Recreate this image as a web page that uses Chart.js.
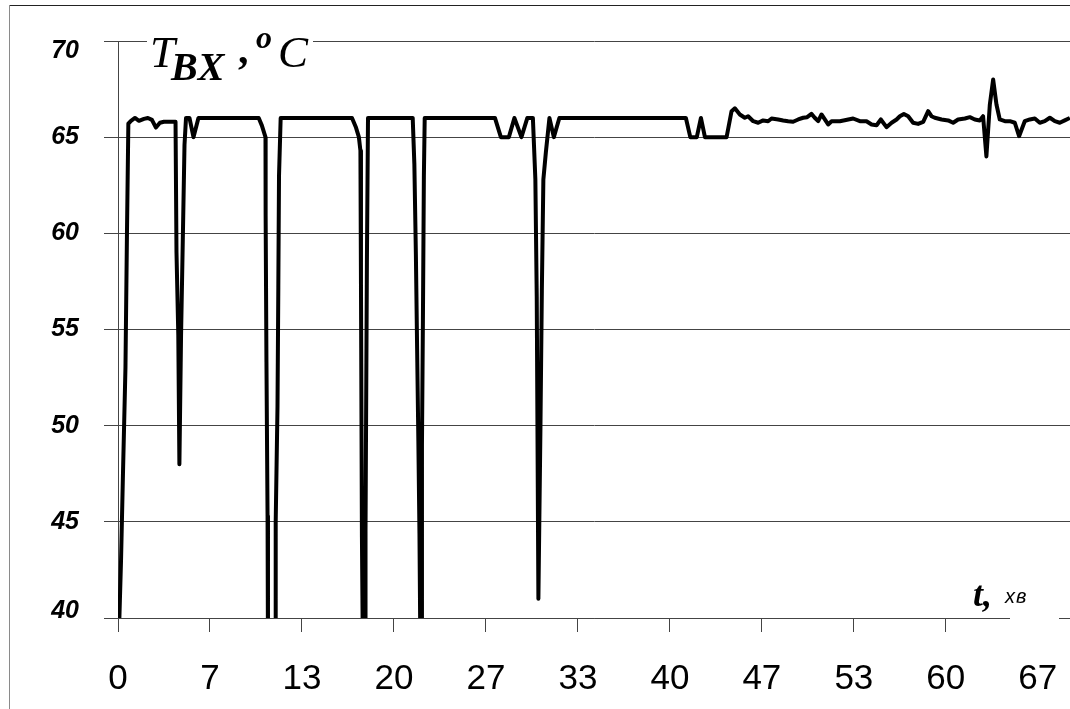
<!DOCTYPE html>
<html>
<head>
<meta charset="utf-8">
<script src="https://cdn.jsdelivr.net/npm/chart.js@4.4.1/dist/chart.umd.min.js"></script>
<style>
  html, body { margin: 0; padding: 0; background: #fff; }
  #wrap { position: relative; width: 1070px; height: 709px; }
</style>
</head>
<body>
<div id="wrap"><canvas id="chart" width="1070" height="709"></canvas></div>
<script>
// time in minutes (only where the trace changes direction)
const timeMin = [
  0.10, 0.22, 0.36, 0.54, 0.65, 0.75, 0.94, 1.23, 1.52, 1.88, 2.17, 2.46, 2.75, 3.04, 3.33,
  4.17, 4.24, 4.37, 4.45, 4.57, 4.70, 4.82, 4.93, 5.18, 5.47, 5.83,
  10.20, 10.43, 10.69, 10.70, 10.76, 10.84, 10.87, 11.41, 11.43, 11.56, 11.62, 11.67, 11.79,
  16.96, 17.25, 17.46, 17.57, 17.61, 17.68, 17.75, 17.93, 17.94, 18.04, 18.12,
  21.36, 21.48, 21.59, 21.68, 21.77, 21.85, 21.92, 21.99, 22.03, 22.10, 22.17, 22.23,
  27.32, 27.75, 28.33, 28.73, 29.24, 29.67, 30.07, 30.25, 30.35, 30.47, 30.62, 30.72, 30.83,
  31.01, 31.27, 31.59, 31.99,
  41.16, 41.48, 41.95, 42.25, 42.54, 44.11, 44.47, 44.71,
  45.07, 45.43, 45.67, 46.04, 46.40, 46.76, 47.12, 47.37, 47.85, 48.21, 48.57, 48.93,
  49.30, 49.66, 49.95, 50.26, 50.50, 50.75, 50.99, 51.23, 51.47, 51.72, 52.32, 53.28,
  53.77, 54.25, 54.62, 54.98, 55.29, 55.70, 56.07, 56.43, 56.67, 56.96, 57.27, 57.63,
  57.99, 58.36, 58.72, 58.96, 59.20, 59.69, 60.17, 60.53, 60.89, 61.38, 61.74, 62.10,
  62.46, 62.70, 62.94, 63.19, 63.43, 63.67, 63.91, 64.28, 64.64, 65.00, 65.31, 65.72,
  66.09, 66.45, 66.81, 67.17, 67.54, 67.90, 68.26, 68.62, 68.99
];
// inlet temperature, deg C
const tempC = [
  40, 43, 47.5, 53, 60, 65.7, 65.85, 66.0, 65.85, 65.95, 66.0, 65.9, 65.5, 65.75, 65.8,
  65.8, 59, 54.7, 48, 54.7, 59.8, 64.6, 66, 66, 65, 66,
  66, 65.6, 65, 61, 53.3, 45.3, 38, 38, 45, 51, 57.2, 63, 66,
  66, 65.5, 65, 64.3, 57.4, 44.2, 38, 38, 44.5, 58.5, 66,
  66, 63.6, 58.9, 54, 49.2, 44.4, 38, 38, 49, 55.5, 63, 66,
  66, 65, 65, 66, 65, 66, 66, 62.8, 56.7, 41, 50, 57, 62.8,
  64.2, 66, 65, 66,
  66, 65, 65, 66, 65, 65, 66.35, 66.5,
  66.18, 66.01, 66.09, 65.83, 65.75, 65.87, 65.83, 65.97, 65.92, 65.87, 65.83, 65.80,
  65.92, 66.01, 66.04, 66.21, 66.01, 65.83, 66.18, 65.92, 65.66, 65.83, 65.83, 65.97,
  65.83, 65.83, 65.66, 65.62, 65.92, 65.52, 65.75, 65.92, 66.09, 66.21, 66.09, 65.75,
  65.69, 65.80, 66.35, 66.09, 66.01, 65.92, 65.87, 65.75, 65.92, 65.97, 66.04, 65.92,
  65.87, 66.09, 64.0, 66.7, 68.0, 66.7, 65.92, 65.83, 65.83, 65.75, 65.05, 65.83,
  65.92, 65.97, 65.75, 65.83, 66.01, 65.83, 65.75, 65.87, 66.0
];

const xTickValues = [0, 20 / 3, 40 / 3, 20, 80 / 3, 100 / 3, 40, 140 / 3, 160 / 3, 60, 200 / 3];
const xTickLabels = ['0', '7', '13', '20', '27', '33', '40', '47', '53', '60', '67'];
const yTickValues = [40, 45, 50, 55, 60, 65, 70];

const points = timeMin.map((t, i) => ({ x: t, y: tempC[i] }));

const decor = {
    id: 'decor',
    afterDraw(chart) {
        const ctx = chart.ctx;
        const yScale = chart.scales.y;
        const area = chart.chartArea;
        ctx.save();
        // frame
        ctx.fillStyle = '#222';
        ctx.fillRect(9, 5, 1061, 1);
        ctx.fillStyle = '#8a8a8a';
        ctx.fillRect(9, 5, 1, 704);

        // y tick labels, kept inside the plot height like the original
        ctx.fillStyle = '#000';
        ctx.textAlign = 'right';
        ctx.textBaseline = 'middle';
        ctx.font = 'italic bold 25px "Liberation Sans", Arial';
        yTickValues.forEach(v => {
            let y = yScale.getPixelForValue(v);
            y = Math.min(Math.max(y, area.top + 10), area.bottom - 7);
            ctx.fillText(String(v), 79, y);
        });

        // y axis title
        ctx.fillStyle = '#fff';
        ctx.fillRect(147, 22, 166, 40);
        ctx.fillStyle = '#000';
        ctx.textAlign = 'left';
        ctx.textBaseline = 'alphabetic';
        ctx.font = 'italic 45px "Liberation Serif"';
        ctx.fillText('T', 150, 67);
        ctx.font = 'italic bold 40px "Liberation Serif"';
        ctx.fillText('BX', 171, 80);
        ctx.font = 'bold 42px "Liberation Serif"';
        ctx.fillText(',', 238, 63);
        ctx.font = 'italic bold 32px "Liberation Serif"';
        ctx.fillText('o', 256, 48);
        ctx.font = 'italic 45px "Liberation Serif"';
        ctx.fillText('C', 278, 67);

        // x axis title
        ctx.fillStyle = '#fff';
        ctx.fillRect(1010, 610, 49, 24);
        ctx.fillStyle = '#000';
        ctx.font = 'italic bold 36px "Liberation Serif"';
        ctx.fillText('t,', 973, 606);
        ctx.font = 'italic 20px "Liberation Sans"';
        ctx.letterSpacing = '1px';
        ctx.fillText('хв', 1005, 603);
        ctx.restore();
    }
};

new Chart(document.getElementById('chart'), {
    type: 'line',
    data: {
        datasets: [{
            data: points,
            borderColor: '#000',
            borderWidth: 4,
            borderJoinStyle: 'round',
            pointRadius: 0,
            tension: 0,
            fill: false,
            clip: 0
        }]
    },
    options: {
        responsive: false,
        animation: false,
        devicePixelRatio: 1,
        layout: { padding: { left: 0, top: 41, right: 0, bottom: 0 } },
        plugins: { legend: { display: false }, tooltip: { enabled: false } },
        scales: {
            x: {
                type: 'linear',
                min: 0,
                max: 69,
                afterBuildTicks: (axis) => { axis.ticks = xTickValues.map(v => ({ value: v })); },
                afterFit: (axis) => {
                    axis.height = 91;
                    axis.paddingLeft = 0;
                    axis.paddingRight = 0;
                },
                grid: { drawOnChartArea: false, drawTicks: true, tickLength: 14, color: '#444', lineWidth: 1 },
                border: { display: true, color: '#444', width: 1 },
                ticks: {
                    autoSkip: false,
                    maxRotation: 0,
                    padding: 26,
                    color: '#000',
                    font: { family: '"Liberation Sans", Arial', size: 35 },
                    callback: (v, i) => xTickLabels[i]
                }
            },
            y: {
                min: 40,
                max: 70,
                afterBuildTicks: (axis) => { axis.ticks = yTickValues.map(v => ({ value: v })); },
                afterFit: (axis) => {
                    axis.width = 118;
                    axis.paddingTop = 0;
                    axis.paddingBottom = 0;
                },
                grid: { drawTicks: true, tickLength: 14, color: '#444', lineWidth: 1 },
                border: { display: true, color: '#444', width: 1 },
                ticks: { display: false }
            }
        }
    },
    plugins: [decor]
});
</script>
</body>
</html>
